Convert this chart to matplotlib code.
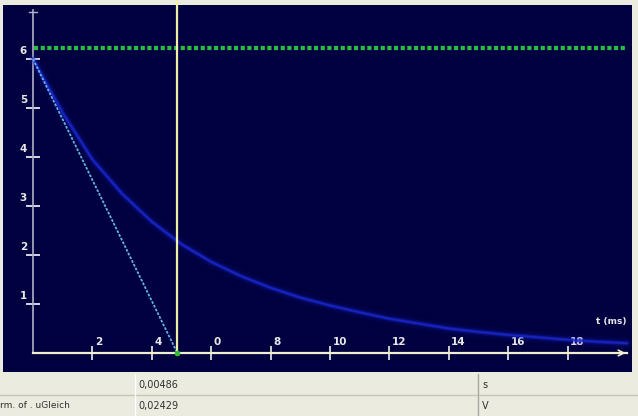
import numpy as np
import matplotlib.pyplot as plt
from matplotlib.patches import Rectangle

# capacitor discharge (t in ms, u in V)
t_ms = [0, 1, 2, 3, 4, 5, 6, 7, 8, 9, 10, 11, 12, 13, 14, 15, 16, 17, 18, 19, 20]
u_V = [6.0, 4.9, 3.95, 3.25, 2.68, 2.22, 1.86, 1.57, 1.33, 1.13, 0.97,
       0.83, 0.70, 0.60, 0.50, 0.43, 0.37, 0.32, 0.27, 0.23, 0.20]

u_start = 6.0
u_level = 6.22      # green dotted line
tau_ms = 4.86       # yellow cursor / end of tangent

x_ticks = [2, 4, 6, 8, 10, 12, 14, 16, 18]
x_labels = ['2', '4', '0', '8', '10', '12', '14', '16', '18']
y_ticks = [1, 2, 3, 4, 5, 6]

table_rows = [['', '0,00486', 's'],
              ['rm. of . uGleich', '0,02429', 'V']]

W, H = 638, 416
fig = plt.figure(figsize=(W / 100, H / 100), dpi=100)
fig.patch.set_facecolor('#ecebe0')

bg = '#000040'
# plot area: pixels 3..632 wide, 5..372 high
ax = fig.add_axes([3 / W, 1 - 372 / H, 629 / W, 367 / H])
ax.set_facecolor(bg)
ax.set_xlim((3 - 33) / 29.7, (632 - 33) / 29.7)
ax.set_ylim((353 - 372) / 49.0, (353 - 5) / 49.0)

for s in ['top', 'right']:
    ax.spines[s].set_visible(False)
ax.spines['left'].set_position(('data', 0))
ax.spines['bottom'].set_position(('data', 0))
ax.spines['left'].set_color('#b0b0c8')
ax.spines['bottom'].set_color('#f0f0d0')
ax.spines['left'].set_linewidth(1.2)
ax.spines['bottom'].set_linewidth(1.6)
ax.spines['left'].set_bounds(0, 7.0)
ax.spines['bottom'].set_bounds(0, 20.0)

ax.set_xticks(x_ticks)
ax.set_yticks(y_ticks)
ax.tick_params(axis='x', direction='inout', length=10, width=1.2,
               colors='#f0f0e0', labelbottom=False)
ax.tick_params(axis='y', direction='inout', length=10, width=1.3,
               colors='#e8e8f0', labelleft=False)

for x, lab in zip(x_ticks, x_labels):
    ax.text(x + 0.08, 0.12, lab, color='#e8e8e8', fontsize=7.5,
            ha='left', va='bottom', fontweight='bold')
for y in y_ticks:
    ax.text(-0.2, y + 0.06, str(y), color='#e8e8e8', fontsize=7.5,
            ha='right', va='bottom', fontweight='bold')
ax.text(20.0, 0.55, 't (ms)', color='#e8e8e8', fontsize=6.5,
        ha='right', va='bottom', fontweight='bold')

# axis arrows
ax.annotate('', xy=(20.05, 0), xytext=(19.6, 0),
            arrowprops=dict(arrowstyle='->', color='#f0f0d0', lw=1.2))
ax.plot([-0.12, 0.12], [6.95, 6.95], color='#b0b0c8', lw=1)

# glowing decay curve
for lw, a in [(8, 0.07), (4.5, 0.18), (2.5, 0.45), (1.2, 0.8)]:
    ax.plot(t_ms, u_V, color='#1a28d0', lw=lw, alpha=a,
            solid_capstyle='round', zorder=3)

# tangent at t = 0
ax.plot([0, tau_ms], [u_start, 0], color='#68b0e0', lw=1.3,
        linestyle=(0, (1.5, 0.8)), zorder=4)

# green level line
ax.plot([0.05, 20.0], [u_level, u_level], color='#30e040', lw=3,
        linestyle=(0, (1, 0.6)), alpha=0.85, zorder=4)

# yellow cursor
ax.plot([tau_ms, tau_ms], [0, 7.2], color='#f0f0a8', lw=1.6, zorder=5,
        clip_on=False)
ax.plot([tau_ms], [0], marker='o', ms=3, color='#30c030', zorder=6)

# value table below the plot
tax = fig.add_axes([0, 0, 1, 1 - 374 / H])
tax.set_xlim(0, W)
tax.set_ylim(42, 0)
tax.axis('off')
tax.add_patch(Rectangle((0, 0), W, 42, color='#ecebe0'))
tax.plot([0, W], [21, 21], color='#c8c6b8', lw=1)
tax.plot([135, 135], [0, 42], color='#ffffff', lw=1)
tax.plot([478, 478], [0, 42], color='#a8a8a0', lw=1)
for i, row in enumerate(table_rows):
    yy = 11 + i * 21
    tax.text(0, yy, row[0], fontsize=6.5, color='#303030', va='center')
    tax.text(138, yy, row[1], fontsize=7, color='#303030', va='center')
    tax.text(482, yy, row[2], fontsize=7, color='#303030', va='center')

fig.savefig('out.png', dpi=100, facecolor=fig.get_facecolor())
